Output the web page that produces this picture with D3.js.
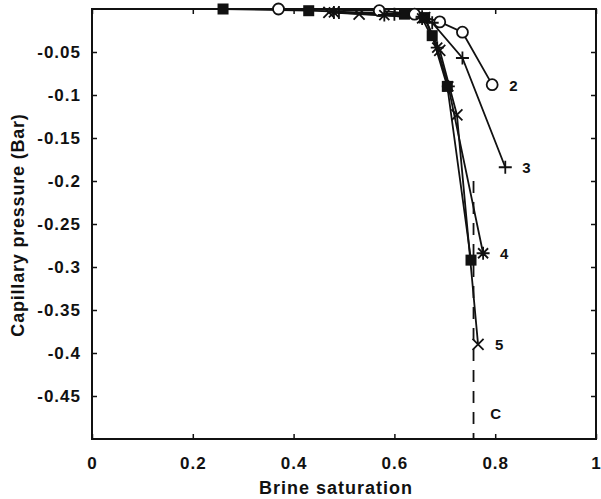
<!DOCTYPE html>
<html>
<head>
<meta charset="utf-8">
<script src="https://cdn.jsdelivr.net/npm/d3@7"></script>
<style>
  body { margin: 0; background: #fff; }
  svg text { font-family: "Liberation Sans", Arial, sans-serif; font-weight: bold; fill: #111; }
</style>
</head>
<body>
<svg id="chart" width="601" height="499"></svg>
<script>
// values: [brine saturation, capillary pressure (bar)]
const series1 = [[0.26, 0], [0.43, -0.002], [0.62, -0.006], [0.66, -0.01], [0.675, -0.031], [0.705, -0.09], [0.752, -0.292]]
const series2 = [[0.37, 0], [0.57, -0.002], [0.64, -0.006], [0.69, -0.015], [0.735, -0.027], [0.794, -0.088]]
const series3 = [[0.49, -0.004], [0.6, -0.006], [0.655, -0.009], [0.675, -0.016], [0.735, -0.057], [0.82, -0.184]]
const series4 = [[0.48, -0.004], [0.58, -0.007], [0.655, -0.011], [0.685, -0.045], [0.707, -0.09], [0.776, -0.284]]
const series5 = [[0.47, -0.004], [0.53, -0.006], [0.66, -0.01], [0.69, -0.048], [0.724, -0.123], [0.766, -0.39]]
const lineC = [[0.757, -0.2], [0.757, -0.5]]
const seriesLabels = ['2', '3', '4', '5']
const xTicks = [0, 0.2, 0.4, 0.6, 0.8, 1]
const yTicks = [-0.05, -0.1, -0.15, -0.2, -0.25, -0.3, -0.35, -0.4, -0.45]

const svg = d3.select('#chart')
const padLeft = 92, padRight = 596, padTop = 9, padBottom = 439

const x = d3.scaleLinear().domain([0, 1]).range([padLeft, padRight])
const y = d3.scaleLinear().domain([-0.5, 0]).range([padBottom, padTop])

// frame
svg.append('rect')
  .attr('x', padLeft).attr('y', padTop)
  .attr('width', padRight - padLeft).attr('height', padBottom - padTop)
  .attr('fill', 'none').attr('stroke', '#111').attr('stroke-width', 2)

// axes with inward ticks
const fmt = d => d === 0 ? '0' : d === 1 ? '1' : String(d)
svg.append('g').attr('transform', 'translate(0,' + padBottom + ')')
  .call(d3.axisBottom(x).tickValues(xTicks).tickSize(-5).tickPadding(18).tickFormat(fmt))
svg.append('g').attr('transform', 'translate(0,' + padTop + ')')
  .call(d3.axisTop(x).tickValues(xTicks).tickSize(-5).tickFormat(''))
svg.append('g').attr('transform', 'translate(' + padLeft + ',0)')
  .call(d3.axisLeft(y).tickValues(yTicks).tickSize(-5).tickPadding(11).tickFormat(d => String(d)))
svg.append('g').attr('transform', 'translate(' + padRight + ',0)')
  .call(d3.axisRight(y).tickValues(yTicks).tickSize(-5).tickFormat(''))

svg.selectAll('.domain').remove()
svg.selectAll('.tick line').attr('stroke', '#111').attr('stroke-width', 1.5)
svg.selectAll('.tick text').attr('font-size', 17).attr('letter-spacing', 1).attr('fill', '#111')

// axis titles
svg.append('text')
  .attr('x', (padLeft + padRight) / 2 - 8).attr('y', 494)
  .attr('text-anchor', 'middle').attr('font-size', 18).attr('letter-spacing', 1)
  .text('Brine saturation')

svg.append('text')
  .attr('transform', 'translate(24,' + 225 + ') rotate(-90)')
  .attr('text-anchor', 'middle').attr('font-size', 18).attr('letter-spacing', 0.8)
  .text('Capillary pressure (Bar)')

const line = d3.line().x(d => x(d[0])).y(d => y(d[1]))

const all = [series1, series2, series3, series4, series5]
all.forEach(function (s) {
  svg.append('path').datum(s)
    .attr('d', line)
    .attr('fill', 'none').attr('stroke', '#111').attr('stroke-width', 1.8)
})

// dashed line C
svg.append('path').datum(lineC)
  .attr('d', line)
  .attr('fill', 'none').attr('stroke', '#111').attr('stroke-width', 1.8)
  .attr('stroke-dasharray', '12,9')

// markers
const g = svg.append('g').attr('stroke', '#111').attr('stroke-width', 1.8)
g.selectAll('.sq').data(series1).enter().append('rect')
  .attr('x', d => x(d[0]) - 5.5).attr('y', d => y(d[1]) - 5.5)
  .attr('width', 11).attr('height', 11).attr('fill', '#111').attr('stroke', 'none')
g.selectAll('.ci').data(series2).enter().append('circle')
  .attr('cx', d => x(d[0])).attr('cy', d => y(d[1])).attr('r', 5.5).attr('fill', '#fff')
g.selectAll('.pl').data(series3).enter().append('path')
  .attr('d', d => { const cx = x(d[0]), cy = y(d[1]); return 'M' + (cx - 6.5) + ',' + cy + 'H' + (cx + 6.5) + 'M' + cx + ',' + (cy - 6.5) + 'V' + (cy + 6.5) })
g.selectAll('.as').data(series4).enter().append('path')
  .attr('d', d => { const cx = x(d[0]), cy = y(d[1]); return 'M' + (cx - 6.5) + ',' + cy + 'H' + (cx + 6.5) + 'M' + cx + ',' + (cy - 6.5) + 'V' + (cy + 6.5) +
    'M' + (cx - 5) + ',' + (cy - 5) + 'L' + (cx + 5) + ',' + (cy + 5) + 'M' + (cx - 5) + ',' + (cy + 5) + 'L' + (cx + 5) + ',' + (cy - 5) })
g.selectAll('.xx').data(series5).enter().append('path')
  .attr('d', d => { const cx = x(d[0]), cy = y(d[1]); return 'M' + (cx - 5.5) + ',' + (cy - 5.5) + 'L' + (cx + 5.5) + ',' + (cy + 5.5) + 'M' + (cx - 5.5) + ',' + (cy + 5.5) + 'L' + (cx + 5.5) + ',' + (cy - 5.5) })

// curve labels at the end points
const ends = [series2, series3, series4, series5].map(s => s[s.length - 1])
svg.selectAll('.lab').data(ends).enter().append('text')
  .attr('x', d => x(d[0]) + 17).attr('y', d => y(d[1]) + 6)
  .attr('font-size', 15)
  .text((d, i) => seriesLabels[i])

svg.append('text')
  .attr('x', x(0.79)).attr('y', y(-0.47) + 6)
  .attr('font-size', 15)
  .text('C')
</script>
</body>
</html>
